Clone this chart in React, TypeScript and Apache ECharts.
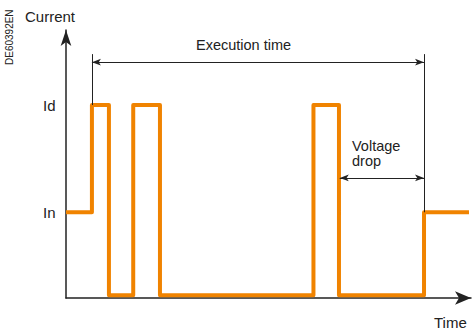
import React, { useEffect, useRef } from "react";
import * as echarts from "echarts";

// Time instants where the current changes level (arbitrary time units 0..100)
const changeTimes = [0, 6.4, 10.6, 16.6, 23.2, 61.1, 67.4, 88.4, 99.5];
// Current level held from each instant (units 0..100 of the vertical axis)
const LOW = 1;
const IN = 32;
const ID = 72;
const levels = [IN, ID, LOW, ID, LOW, ID, LOW, IN, IN];

// Annotation positions (data units)
const execStart = 6.4;
const execEnd = 88.4;
const execArrowY = 88;
const execLineTop = 91;
const dropStart = 67.6;
const dropEnd = 88.4;
const dropArrowY = 44.8;

const yTickLabels = [
  { name: "Id", value: ID },
  { name: "In", value: IN },
];

const FONT = '"Liberation Sans", Arial, Helvetica, sans-serif';
const ORANGE = "#F08300";
const INK = "#222222";

export default function App() {
  const ref = useRef<HTMLDivElement>(null);
  useEffect(() => {
    if (!ref.current) return;
    const chart = echarts.init(ref.current, null, { renderer: "svg" });
    const data = changeTimes.map((t, i) => [t, levels[i]]);
    const option: any = {
      animation: false,
      backgroundColor: "#ffffff",
      grid: { left: 66, right: 1, top: 30, bottom: 33 },
      xAxis: {
        type: "value",
        min: 0,
        max: 100,
        axisLine: {
          show: true,
          symbol: ["none", "arrow"],
          symbolSize: [10, 16],
          lineStyle: { color: INK, width: 1.5 },
        },
        axisTick: { show: false },
        axisLabel: { show: false },
        splitLine: { show: false },
      },
      yAxis: {
        type: "value",
        min: 0,
        max: 100,
        axisLine: {
          show: true,
          symbol: ["none", "arrow"],
          symbolSize: [8, 16],
          lineStyle: { color: INK, width: 1.5 },
        },
        axisTick: { show: false },
        axisLabel: { show: false },
        splitLine: { show: false },
      },
      series: [
        {
          type: "line",
          step: "end",
          data,
          symbol: "none",
          lineStyle: { color: ORANGE, width: 4, join: "round" },
          z: 3,
          markLine: {
            silent: true,
            animation: false,
            label: { show: false },
            lineStyle: { color: INK, width: 1, type: "solid" },
            data: [
              [
                { coord: [execStart, execLineTop], symbol: "none" },
                { coord: [execStart, ID], symbol: "none" },
              ],
              [
                { coord: [execEnd, execLineTop], symbol: "none" },
                { coord: [execEnd, IN], symbol: "none" },
              ],
              [
                { coord: [execStart, execArrowY], symbol: "arrow", symbolSize: [5, 9] },
                { coord: [execEnd, execArrowY], symbol: "arrow", symbolSize: [5, 9] },
              ],
              [
                { coord: [dropStart, dropArrowY], symbol: "arrow", symbolSize: [5, 9] },
                { coord: [dropEnd, dropArrowY], symbol: "arrow", symbolSize: [5, 9] },
              ],
            ],
          },
        },
      ],
      graphic: [
        {
          type: "text",
          x: 9,
          y: 65,
          rotation: Math.PI / 2,
          style: { text: "DE60392EN", font: `10px ${FONT}`, fill: INK, textVerticalAlign: "middle" },
        },
        {
          type: "text",
          x: 25,
          y: 16,
          style: { text: "Current", font: `15px ${FONT}`, fill: INK, textVerticalAlign: "middle" },
        },
        ...yTickLabels.map((t) => ({
          type: "text",
          x: 43,
          y: 298 - 2.68 * t.value,
          style: { text: t.name, font: `15px ${FONT}`, fill: INK, textVerticalAlign: "middle" },
        })),
        {
          type: "text",
          x: 196,
          y: 45,
          style: { text: "Execution time", font: `14.5px ${FONT}`, fill: INK, textVerticalAlign: "middle" },
        },
        {
          type: "text",
          x: 352,
          y: 146,
          style: { text: "Voltage", font: `14.5px ${FONT}`, fill: INK, textVerticalAlign: "middle" },
        },
        {
          type: "text",
          x: 352,
          y: 161,
          style: { text: "drop", font: `14.5px ${FONT}`, fill: INK, textVerticalAlign: "middle" },
        },
        {
          type: "text",
          x: 434,
          y: 322,
          style: { text: "Time", font: `15px ${FONT}`, fill: INK, textVerticalAlign: "middle" },
        },
      ],
    };
    chart.setOption(option);
    return () => chart.dispose();
  }, []);
  return (
    <div
      ref={ref}
      style={{ position: "fixed", left: 0, top: 0, width: 472, height: 331, background: "#fff" }}
    />
  );
}
